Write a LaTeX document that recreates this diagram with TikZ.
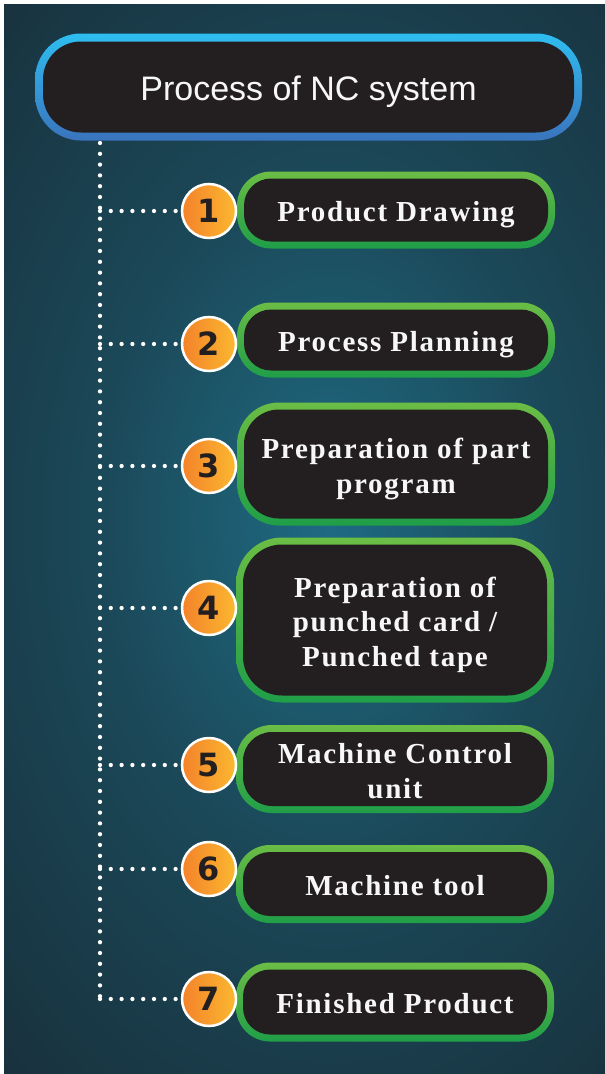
\documentclass[tikz,border=0pt]{standalone}
\usepackage{fontspec}
\newfontfamily\boxfont[LetterSpace=6]{Liberation Serif}
\newfontfamily\titlefont{Liberation Sans}
\newfontfamily\numfont{DejaVu Sans}
\definecolor{boxfill}{HTML}{231F20}
\definecolor{greenTop}{HTML}{6BBD45}
\definecolor{greenBot}{HTML}{1F9E48}
\definecolor{blueTop}{HTML}{2EBDF0}
\definecolor{blueBot}{HTML}{3A74BD}
\definecolor{orangeL}{HTML}{F4822A}
\definecolor{orangeR}{HTML}{FBB830}
\definecolor{bgdark}{HTML}{17252F}
\definecolor{bgmid}{HTML}{1B4858}
\definecolor{bgglow}{HTML}{1E6B83}
\definecolor{txtwhite}{HTML}{F7F7F7}
\pgfdeclareradialshading{bgshade}{\pgfpoint{0bp}{0bp}}{color(0bp)=(bgglow); color(6.5bp)=(bgmid); color(17.5bp)=(bgdark); color(50bp)=(bgdark)}
\newcommand\boxtext[1]{\raisebox{-5pt}[\height][\depth]{\begin{tabular}{@{}c@{}}#1\end{tabular}}}
\tikzset{
  stepbox/.style 2 args={rectangle, rounded corners=#1, minimum width=318pt, inner sep=0pt,
    top color=greenTop, bottom color=greenBot, text=txtwhite, align=center,
    font=\boxfont\bfseries\fontsize{29}{34.5}\selectfont,
    path picture={\fill[boxfill, rounded corners=#2]
      ([shift={(7pt,7pt)}]path picture bounding box.south west) rectangle
      ([shift={(-7pt,-7pt)}]path picture bounding box.north east);}},
  titlebox/.style={rectangle, rounded corners=46pt, minimum width=547pt, minimum height=107pt, inner sep=0pt,
    top color=blueTop, bottom color=blueBot, text=txtwhite,
    font=\titlefont\fontsize{34}{38}\selectfont,
    path picture={\fill[boxfill, rounded corners=38pt]
      ([shift={(8pt,8pt)}]path picture bounding box.south west) rectangle
      ([shift={(-8pt,-8pt)}]path picture bounding box.north east);}},
  numdot/.style={circle, minimum size=54pt, inner sep=0pt, left color=orangeL, right color=orangeR,
    draw=white, line width=2.5pt, text=boxfill, font=\numfont\bfseries\fontsize{32}{36}\selectfont},
  dotline/.style={draw=white, line width=4.3pt, line cap=round, dash pattern=on 0pt off 10.8pt},
}
\begin{document}
\begin{tikzpicture}[x=1pt, y=-1pt]
\useasboundingbox (0,0) rectangle (605,1074);
\fill[white] (0,0) rectangle (605,1074);
\begin{scope}
\clip (4,4) rectangle (605,1074);
\fill[bgdark] (4,4) rectangle (605,1074);
\shade[shading=bgshade] (330,520) ellipse (900pt and 1340pt);
\end{scope}
% title
\node[titlebox] (title) at (308.5,87) {\raisebox{-5pt}[\height][\depth]{Process of NC system}};
% boxes
\node[stepbox={34pt}{27pt}, minimum height=77pt] (b1) at (396,210) {\boxtext{Product Drawing}};
\node[stepbox={34pt}{27pt}, minimum height=75pt] (b2) at (396,340) {\boxtext{Process Planning}};
\node[stepbox={42pt}{35pt}, minimum height=123pt] (b3) at (396,464) {\boxtext{Preparation of part\\program}};
\node[stepbox={46pt}{39pt}, minimum height=165pt] (b4) at (395,620) {\boxtext{Preparation of\\punched card /\\Punched tape}};
\node[stepbox={36pt}{29pt}, minimum height=88pt] (b5) at (395,769) {\boxtext{Machine Control\\unit}};
\node[stepbox={34pt}{27pt}, minimum height=78pt] (b6) at (395,884) {\boxtext{Machine tool}};
\node[stepbox={34pt}{27pt}, minimum height=79pt] (b7) at (395,1002) {\boxtext{Finished Product}};
% number circles
\node[numdot] (c1) at (209,211) {1};
\node[numdot] (c2) at (209,344) {2};
\node[numdot] (c3) at (209,466) {3};
\node[numdot] (c4) at (209,608) {4};
\node[numdot] (c5) at (209,765) {5};
\node[numdot] (c6) at (209,869) {6};
\node[numdot] (c7) at (209,999) {7};
% spine
\coordinate (spinetop) at (100,143);
\coordinate (spinebot) at (100,999);
\path[dotline] (spinetop) -- (spinebot);
\foreach \i in {1,...,7}{
  \path[dotline] (spinetop |- c\i.west) -- (c\i.west);
}
\end{tikzpicture}
\end{document}
